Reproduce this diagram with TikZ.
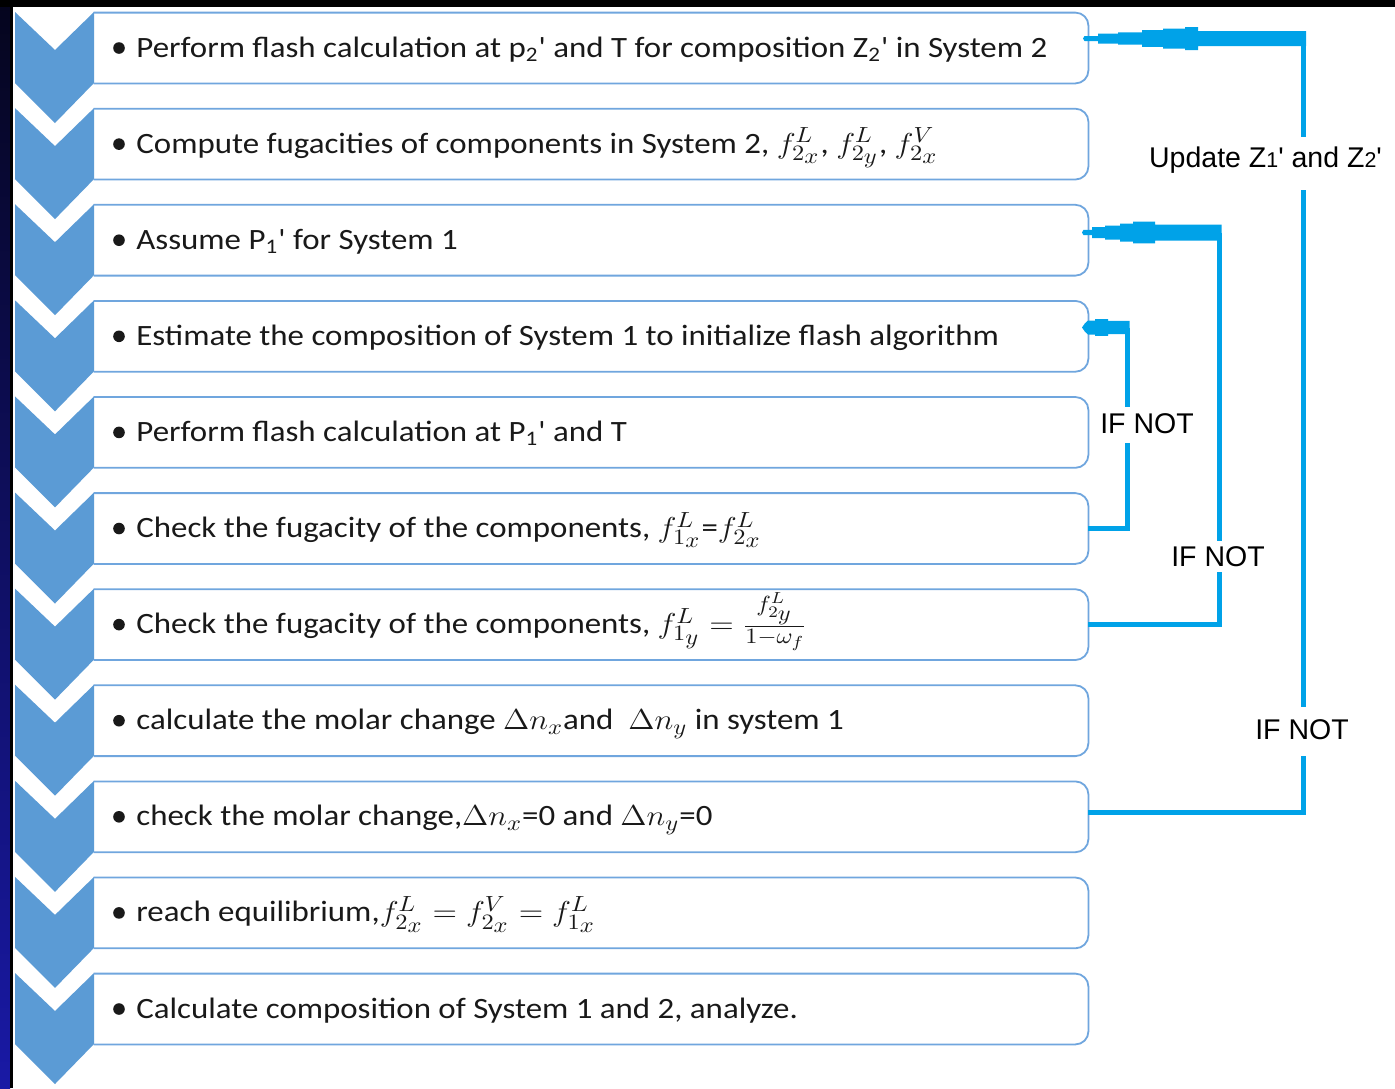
\documentclass[tikz,border=0pt]{standalone}
\usepackage{fontspec}
\setmainfont{Carlito}
\newfontfamily\arialf{Liberation Sans}
\definecolor{chev}{RGB}{91,155,213}
\definecolor{boxl}{RGB}{112,166,222}
\definecolor{connc}{RGB}{0,162,232}
\definecolor{txtc}{RGB}{25,25,25}
\definecolor{navytop}{RGB}{5,5,30}
\definecolor{navybot}{RGB}{25,25,165}
\newcommand\sq{\textquotesingle}
\newcommand\wide[1]{\scalebox{1.115}[1]{#1}}
\newcommand\mth[1]{{\fontsize{15.5pt}{17pt}\selectfont$#1$}}
\newcommand\ssub[1]{{\scriptstyle #1}}
\begin{document}
\begin{tikzpicture}[x=0.5pt,y=-0.5pt,
  boxn/.style={minimum width=497pt,minimum height=35pt,inner sep=0pt,draw=none},
  boxline/.style={draw=boxl,line width=0.9pt},
  txt/.style={anchor=base west,inner sep=0pt,text=txtc,font=\fontsize{14.75pt}{17pt}\selectfont},
  conn/.style={draw=connc,line width=2.5pt},
  lbl/.style={anchor=base,fill=white,inner xsep=1pt,text=black,font=\arialf\fontsize{14.25pt}{16pt}\selectfont}]
\useasboundingbox (0,0) rectangle (1395,1088);
\fill[white] (0,0) rectangle (1395,1088);
\fill[black] (0,0) rectangle (1395,7);
\shade[top color=navytop,bottom color=navybot] (0,7) rectangle (10,1088);
\fill[black] (10,0) rectangle (12.5,1088);
% chevrons
\foreach \i in {0,...,10}{
  \pgfmathsetmacro\t{12+96.1*\i}
  \fill[chev] (15,\t) -- (55,{\t+38}) -- (94,\t) -- (94,{\t+71}) -- (55,{\t+111}) -- (15,{\t+71}) -- cycle;
}
% boxes
\foreach \i in {0,...,10}{
  \pgfmathsetmacro\c{48+96.1*\i}
  \pgfmathtruncatemacro\n{\i+1}
  \node[boxn] (b\n) at (591,\c) {};
  \draw[boxline] (b\n.north west) [rounded corners=6.5pt] -- (b\n.north east) -- (b\n.south east) -- (b\n.south west);
  \fill[txtc] (119,\c) circle[radius=2.9pt];
}
% texts
\node[txt] (t1) at (136,57) {\wide{Perform flash calculation at p\textsubscript{2}\sq{} and T for composition Z\textsubscript{2}\sq{} in System 2}};
\node[txt] (t2) at (136,153.1) {\wide{Compute fugacities of components in System 2, \mth{f^{L}_{2_{\ssub x}}}, \mth{f^{L}_{2_{\ssub y}}}, \mth{f^{V}_{2_{\ssub x}}}}};
\node[txt] (t3) at (136,249.2) {\wide{Assume P\textsubscript{1}\sq{} for System 1}};
\node[txt] (t4) at (136,345.3) {\wide{Estimate the composition of System 1 to initialize flash algorithm}};
\node[txt] (t5) at (136,441.4) {\wide{Perform flash calculation at P\textsubscript{1}\sq{} and T}};
\node[txt] (t6) at (136,537.5) {\wide{Check the fugacity of the components, \mth{f^{L}_{1_{\ssub x}}}=\mth{f^{L}_{2_{\ssub x}}}}};
\node[txt] (t7) at (136,633.6) {\wide{Check the fugacity of the components, \mth{f^{L}_{1_{\ssub y}}=\frac{f^{L}_{2_{\ssub y}}}{1-\omega_f}}}};
\node[txt] (t8) at (136,729.7) {\wide{calculate the molar change \mth{\Delta n_x}and\ \ \mth{\Delta n_y} in system 1}};
\node[txt] (t9) at (136,825.8) {\wide{check the molar change,\mth{\Delta n_x}=0 and \mth{\Delta n_y}=0}};
\node[txt] (t10) at (136,921.9) {\wide{reach equilibrium,\mth{f^{L}_{2_{\ssub x}} = f^{V}_{2_{\ssub x}} = f^{L}_{1_{\ssub x}}}}};
\node[txt] (t11) at (136,1018) {\wide{Calculate composition of System 1 and 2, analyze.}};
% connectors
\coordinate (v1) at (1303.5,38.5);
\coordinate (v2) at (1219,232.5);
\coordinate (v3) at (1127,327.5);
\coordinate (a1) at (1083,38.5);
\coordinate (a2) at (1082,232.5);
\coordinate (a3) at (1082,327.5);
\draw[conn] ([yshift=2pt]b9.east) -| (v1);
\draw[conn] (b7.east) -| (v2);
\draw[conn] (b6.east) -| (v3);
\fill[connc] (1306,31) -- (1198,31) -- (1198,27) -- (1185,27) -- (1185,28.5) -- (1163,28.5) -- (1163,30.2) -- (1142,30.2) -- (1142,32.3) -- (1118,32.3) -- (1118,33.5) -- (1098,33.5) -- (1098,36) -- (1084.5,36) -- (a1) -- (1084.5,41) -- (1098,41) -- (1098,43.5) -- (1118,43.5) -- (1118,44.7) -- (1142,44.7) -- (1142,46.8) -- (1163,46.8) -- (1163,48.5) -- (1185,48.5) -- (1185,50) -- (1198,50) -- (1198,46) -- (1306,46) -- cycle;
\fill[connc] (1221.5,224.5) -- (1155,224.5) -- (1155,221.7) -- (1133,221.7) -- (1133,223.5) -- (1120,223.5) -- (1120,225.5) -- (1105,225.5) -- (1105,227) -- (1092,227) -- (1092,229.8) -- (1083.5,229.8) -- (a2) -- (1083.5,235.2) -- (1092,235.2) -- (1092,238) -- (1105,238) -- (1105,239.5) -- (1120,239.5) -- (1120,241.5) -- (1133,241.5) -- (1133,243.3) -- (1155,243.3) -- (1155,240.5) -- (1221.5,240.5) -- cycle;
\fill[connc] (1129.5,320.8) -- (1108,320.8) -- (1108,319.2) -- (1095,319.2) -- (1095,320.5) -- (1088,320.5) -- (1085,323.2) -- (a3) -- (1085,331.8) -- (1088,334.5) -- (1095,334.5) -- (1095,335.8) -- (1108,335.8) -- (1108,334.2) -- (1129.5,334.2) -- cycle;
% labels
\node[lbl,text height=10pt,text depth=6.5pt,inner ysep=5pt] (lu) at (1265.5,167) {Update Z{\fontsize{10.7pt}{12pt}\selectfont 1}\sq{} and Z{\fontsize{10.7pt}{12pt}\selectfont 2}\sq};
\node[lbl,text height=10.5pt,text depth=3pt,inner ysep=5.5pt] (l1) at (1302,739) {IF NOT};
\node[lbl,text height=10pt,text depth=0.5pt,inner ysep=2.5pt] (l2) at (1218,566) {IF NOT};
\node[lbl,text height=10pt,text depth=2pt,inner ysep=3pt] (l3) at (1147,433) {IF NOT};
\end{tikzpicture}
\end{document}
